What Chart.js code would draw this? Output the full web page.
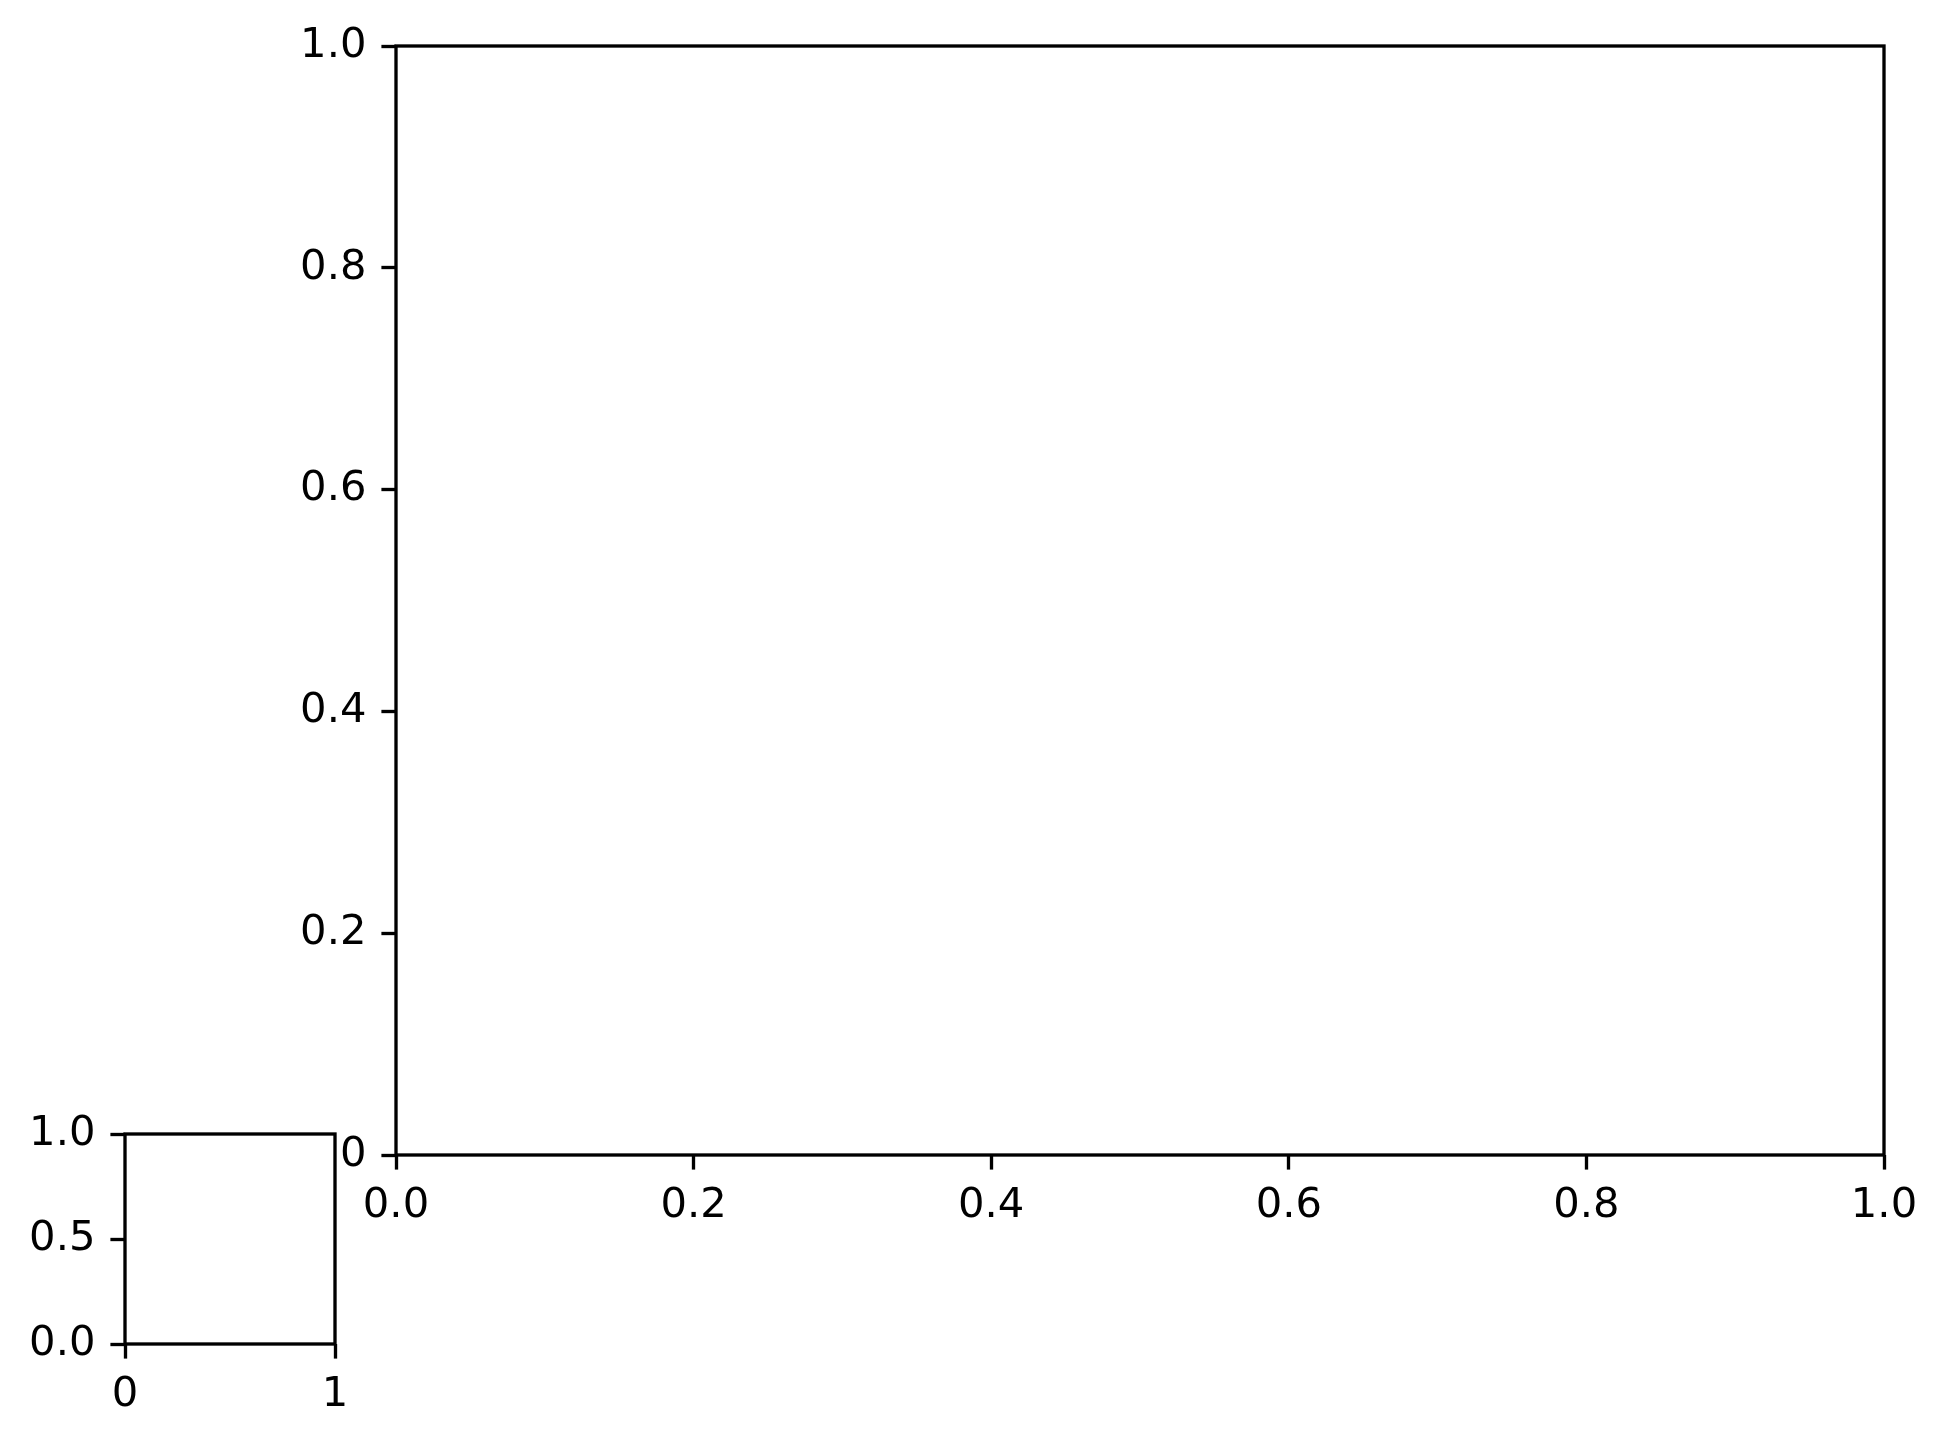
<!DOCTYPE html>
<html>
<head>
<meta charset="utf-8">
<title>Axes</title>
<script src="https://cdn.jsdelivr.net/npm/chart.js@4.4.1/dist/chart.umd.min.js"></script>
<style>
  html, body { margin: 0; padding: 0; background: #fff; }
  canvas { position: absolute; left: 0; top: 0; }
</style>
</head>
<body>
<canvas id="mainChart" width="1947" height="1445" style="width:1947px;height:1445px"></canvas>
<canvas id="insetChart" width="1947" height="1445" style="width:1947px;height:1445px"></canvas>
<script>
  'use strict';

  // main axes ticks
  var mainXTicks = [0, 0.2, 0.4, 0.6, 0.8, 1.0];
  var mainXLabels = ['0.0', '0.2', '0.4', '0.6', '0.8', '1.0'];
  var mainYTicks = [0, 0.2, 0.4, 0.6, 0.8, 1.0];
  var mainYLabels = ['0', '0.2', '0.4', '0.6', '0.8', '1.0'];

  // small axes ticks
  var insetXTicks = [0, 1];
  var insetXLabels = ['0', '1'];
  var insetYTicks = [0, 0.5, 1.0];
  var insetYLabels = ['0.0', '0.5', '1.0'];

  Chart.defaults.font.family = 'DejaVu Sans';
  Chart.defaults.font.size = 41.7;
  Chart.defaults.color = '#000';

  var LW = 3.33;

  // box round the plot area, like the spines
  var frame = {
    id: 'frame',
    afterDraw: function(chart) {
      var a = chart.chartArea;
      var ctx = chart.ctx;
      ctx.save();
      ctx.strokeStyle = '#000';
      ctx.lineWidth = LW;
      ctx.lineJoin = 'miter';
      ctx.strokeRect(a.left, a.top, a.right - a.left, a.bottom - a.top);
      ctx.restore();
    }
  };

  function axis(pos, ticks, labels, size, pad) {
    return {
      type: 'linear',
      position: pos,
      min: 0,
      max: 1,
      afterBuildTicks: function(s) {
        s.ticks = ticks.map(function(v) { return { value: v }; });
      },
      afterFit: function(s) {
        if (pos === 'bottom') { s.height = size; } else { s.width = size; }
      },
      ticks: {
        padding: pad,
        maxRotation: 0,
        autoSkip: false,
        callback: function(v, i) { return labels[i]; }
      },
      grid: {
        drawOnChartArea: false,
        drawTicks: true,
        tickLength: 14.6,
        tickWidth: LW,
        tickColor: '#000'
      },
      border: { display: false }
    };
  }

  function makeChart(id, padding, xAxis, yAxis) {
    var ctx = document.getElementById(id).getContext('2d');
    return new Chart(ctx, {
      type: 'scatter',
      data: { datasets: [] },
      options: {
        responsive: false,
        animation: false,
        layout: { padding: padding },
        plugins: { legend: { display: false }, tooltip: { enabled: false } },
        scales: { x: xAxis, y: yAxis }
      },
      plugins: [frame]
    });
  }

  makeChart('mainChart',
    { left: 0, top: 46, right: 63, bottom: 0 },
    axis('bottom', mainXTicks, mainXLabels, 290, 12),
    axis('left', mainYTicks, mainYLabels, 396, 15));

  makeChart('insetChart',
    { left: 0, top: 1134, right: 1612, bottom: 0 },
    axis('bottom', insetXTicks, insetXLabels, 101, 12),
    axis('left', insetYTicks, insetYLabels, 125, 15));
</script>
</body>
</html>
